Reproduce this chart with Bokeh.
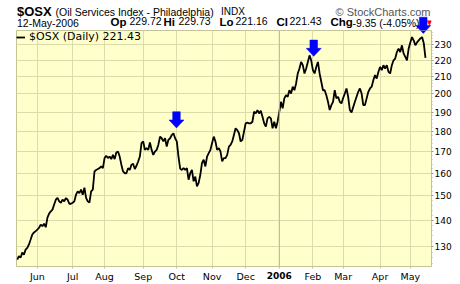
import math
from bokeh.plotting import figure
from bokeh.layouts import column
from bokeh.models import Range1d, FixedTicker, Span, PrintfTickFormatter, LinearAxis
from bokeh.core.properties import value
from bokeh.embed import file_html
from bokeh.resources import INLINE

# ---- data ----
close = [
    125.3, 126.5, 126.0, 127.8, 127.1, 128.9, 129.5, 130.8, 132.6, 134.5,
    135.3, 135.8, 136.4, 137.1, 138.3, 137.7, 138.7, 137.3, 141.1, 142.7,
    143.6, 144.3, 146.4, 148.4, 149.2, 147.7, 147.1, 148.4, 147.7, 149.1,
    148.4, 146.7, 146.7, 147.1, 147.7, 150.5, 151.9, 151.2, 152.7, 150.5,
    153.5,
    149.2, 147.7, 147.2, 151.9, 152.7, 160.7, 161.4, 161.8, 162.2, 163.0,
    162.2, 166.9, 168.0, 166.9, 167.6, 166.4, 168.4, 166.4, 169.5, 170.0,
    167.6, 163.8, 160.7, 159.9, 159.9, 162.2, 161.4, 163.8, 164.2, 161.8,
    163.3, 165.3, 167.6, 174.1, 174.9, 170.8, 171.6, 170.8,
    174.4, 170.8, 168.4, 170.0, 170.8, 173.2, 177.3, 176.5, 174.9, 176.5,
    172.4, 175.7, 176.5, 178.1, 179.0, 176.5, 174.9, 167.6, 162.0, 161.4,
    162.2, 161.4, 162.2, 157.0, 159.9, 161.4, 156.3, 158.4, 154.1, 155.6,
    159.2, 164.6, 166.1, 163.0, 167.6, 169.2, 170.8, 174.1, 177.3,
    174.9, 170.8, 171.6, 170.0, 165.3, 166.9, 166.9, 168.4, 172.4, 173.2,
    174.9, 178.1, 181.5, 180.6, 179.0, 174.9, 175.7, 179.8, 184.1, 184.4,
    184.1, 184.1, 184.9, 190.2, 189.3, 191.1, 189.3, 190.7, 187.5, 184.1,
    182.4, 186.7, 187.5, 186.7, 181.5, 184.9, 181.5, 184.9,
    190.2, 195.6, 192.0, 197.5, 199.3, 198.4, 202.1, 200.2, 204.1, 202.1,
    206.0, 211.9, 214.9, 218.9, 216.9, 211.9, 214.9, 218.9, 223.0, 219.9,
    213.9, 211.9, 215.8, 218.9, 211.9, 207.0, 202.1, 202.1, 199.3, 195.6,
    191.1, 193.8, 195.6, 202.1, 197.5, 198.4, 195.6,
    194.7, 197.7, 200.2, 203.1, 198.4, 191.1, 189.8, 192.7, 195.6, 198.4,
    201.2, 203.1, 200.2, 193.8, 193.8, 197.5, 201.2, 203.1, 204.1, 208.0,
    210.9, 208.9, 212.9, 215.8, 213.9, 216.9, 214.9, 216.9, 212.9, 211.9,
    216.9, 219.9, 221.0, 225.1, 227.3, 225.1, 229.4, 224.2, 222.1, 219.9,
    227.3, 231.3, 234.8, 232.6, 229.4, 231.3, 232.6, 233.9, 234.8, 230.78,
    221.43,
]
session = list(range(len(close)))

month_ticks = [12, 33, 52, 75, 95, 116, 136, 156, 176, 194, 216, 234]
month_labels = ["Jun", "Jul", "Aug", "Sep", "Oct", "Nov", "Dec", "2006",
                "Feb", "Mar", "Apr", "May"]
price_ticks = [130, 140, 150, 160, 170, 180, 190, 200, 210, 220, 230]
minor_price_ticks = [v for v in range(124, 240, 2) if v % 10 != 0]

arrow_session = [94.8, 176.5, 241.7]
arrow_price = [181.7, 222.4, 237.2]

title_sym = "$OSX"
title_name = "(Oil Services Index - Philadelphia)"
title_exch = "INDX"
credit = "\u00a9 StockCharts.com"
date_str = "12-May-2006"
quote_keys = ["Op", "Hi", "Lo", "Cl", "Chg"]
quote_vals = ["229.72", "229.73", "221.16", "221.43", "-9.35 (-4.05%)"]
legend_text = "$OSX (Daily) 221.43"

# ---- layout ----
X0, X1 = -0.42, 246.6
Y0, Y1 = 122.9, 239.2
W = 460
HEAD = 30
L, R, B = 16, 29, 17
MAIN_H = 284 - HEAD
FW, FH = W - L - R, MAIN_H - B
kx = FW / (X1 - X0)
ky = math.log(Y1 / Y0) / FH
arrow_shape = [(0, 0), (-7.5, 8), (-3.8, 8), (-3.8, 16.3), (3.8, 16.3), (3.8, 8), (7.5, 8)]
ARROW = "#0000ff"
GRID = "#dcdcaa"
FRAME = "#c4c496"
ASCENT = 0.905  # Arial / Liberation Sans ascent, in em

# ---- header strip (no axes; frame aligned with the chart frame: canvas px L..W-R) ----
h = figure(width=W, height=HEAD, x_range=Range1d(L, W - R), y_range=Range1d(HEAD, 0),
           x_axis_type=None, y_axis_type=None,
           output_backend="svg", toolbar_location=None,
           min_border_left=L, min_border_right=R, min_border_top=0, min_border_bottom=0,
           outline_line_color=None)
h.grid.visible = False
h.background_fill_color = "white"
h.border_fill_color = "white"

def hdr(text, x, base, size_px, bold=False, color="black", align="left", font="Arial"):
    top = base - ASCENT * size_px
    h.text(x=[x], y=[top], text=[text], text_align=align, text_baseline="top",
           text_font=value(font), text_font_size=f"{size_px}px",
           text_font_style="bold" if bold else "normal", text_color=color)

LINE1, LINE2 = 15, 26.2
hdr(title_sym, 16.5, LINE1, 13, bold=True)
hdr(title_name, 55, LINE1, 10.5)
hdr(title_exch, 220.5, LINE1, 10)
hdr(credit, 430, LINE1, 11, color="#555555", align="right")
hdr(date_str, 16.5, LINE2, 10.5)
key_x = [110, 163, 219, 276, 330]
val_x = [129, 178, 235, 289, 352]
for k, v, kx_, vx_ in zip(quote_keys, quote_vals, key_x, val_x):
    hdr(k, kx_, LINE2, 11.5, bold=True)
    hdr(v, vx_, LINE2, 10.5)
hdr("\u25bc", 429, 25, 7, color="red", align="center", font="DejaVu Sans")

# upper part of the arrows that rise into the header strip
for s, pr in zip(arrow_session, arrow_price):
    cx = L + (s - X0) * kx
    tip = HEAD + math.log(Y1 / pr) / ky
    h.patch([cx + dx for dx, dy in arrow_shape], [tip - dy for dx, dy in arrow_shape],
            fill_color=ARROW, line_color=ARROW, line_width=0.5)

# ---- main chart ----
p = figure(width=W, height=MAIN_H, x_range=Range1d(X0, X1), y_range=Range1d(Y0, Y1),
           y_axis_type="log", y_axis_location="right",
           output_backend="svg", toolbar_location=None,
           min_border_left=L, min_border_top=0, min_border_right=R, min_border_bottom=B)

p.background_fill_color = "#ffffcc"
p.border_fill_color = "white"
p.outline_line_color = FRAME

p.xaxis.ticker = FixedTicker(ticks=month_ticks)
p.xaxis.major_label_overrides = {t: ("" if lab == "2006" else lab)
                                 for t, lab in zip(month_ticks, month_labels)}
p.xaxis.major_label_text_font = "DejaVu Sans"
p.xaxis.major_label_text_font_size = "9.5px"
p.xaxis.major_label_text_color = "black"
p.xaxis.major_label_standoff = 2
p.xaxis.major_tick_out = 2
p.xaxis.major_tick_in = 0
p.xaxis.minor_tick_out = 0
p.xaxis.major_tick_line_color = FRAME
p.xaxis.axis_line_color = None

# year label: a second bottom axis carrying only the year tick, in bold,
# pulled up into the month-label row
y_idx = month_labels.index("2006")
year_axis = LinearAxis(ticker=FixedTicker(ticks=[month_ticks[y_idx]]),
                       major_label_overrides={month_ticks[y_idx]: month_labels[y_idx]},
                       major_label_text_font="DejaVu Sans", major_label_text_font_style="bold",
                       major_label_text_font_size="9px", major_label_text_color="black",
                       major_label_standoff=-13, major_tick_out=0, major_tick_in=0,
                       minor_tick_out=0, minor_tick_in=0, axis_line_color=None)
p.add_layout(year_axis, "below")

p.yaxis.ticker = FixedTicker(ticks=price_ticks, minor_ticks=minor_price_ticks)
p.yaxis.formatter = PrintfTickFormatter(format="%d")
p.yaxis.major_label_text_font = "DejaVu Sans"
p.yaxis.major_label_text_font_size = "9px"
p.yaxis.major_label_text_color = "black"
p.yaxis.major_label_standoff = 1
p.yaxis.major_tick_out = 2
p.yaxis.major_tick_in = 0
p.yaxis.minor_tick_out = 1
p.yaxis.minor_tick_in = 0
p.yaxis.major_tick_line_color = "#a0a080"
p.yaxis.minor_tick_line_color = "#b0b090"
p.yaxis.axis_line_color = None

p.xgrid.ticker = FixedTicker(ticks=month_ticks)
p.ygrid.ticker = FixedTicker(ticks=price_ticks)
p.xgrid.grid_line_color = GRID
p.ygrid.grid_line_color = GRID
p.add_layout(Span(location=month_ticks[y_idx], dimension="height",
                  line_color="#b8b88a", line_width=1))

p.line(session, close, line_color="black", line_width=1.8, legend_label=legend_text)
p.legend.location = "top_left"
p.legend.margin = 0
p.legend.padding = 0
p.legend.glyph_width = 9
p.legend.glyph_height = 12
p.legend.label_standoff = 4
p.legend.label_text_font = "DejaVu Sans"
p.legend.label_text_font_size = "11px"
p.legend.label_text_color = "black"
p.legend.label_height = 12
p.legend.background_fill_alpha = 0
p.legend.border_line_alpha = 0

for s, pr in zip(arrow_session, arrow_price):
    xs = [s + dx / kx for dx, dy in arrow_shape]
    ys = [pr * math.exp(dy * ky) for dx, dy in arrow_shape]
    p.patch(xs, ys, fill_color=ARROW, line_color=ARROW, line_width=0.5)

layout = column(h, p, spacing=0)
open("out.html", "w").write(file_html(layout, INLINE))
